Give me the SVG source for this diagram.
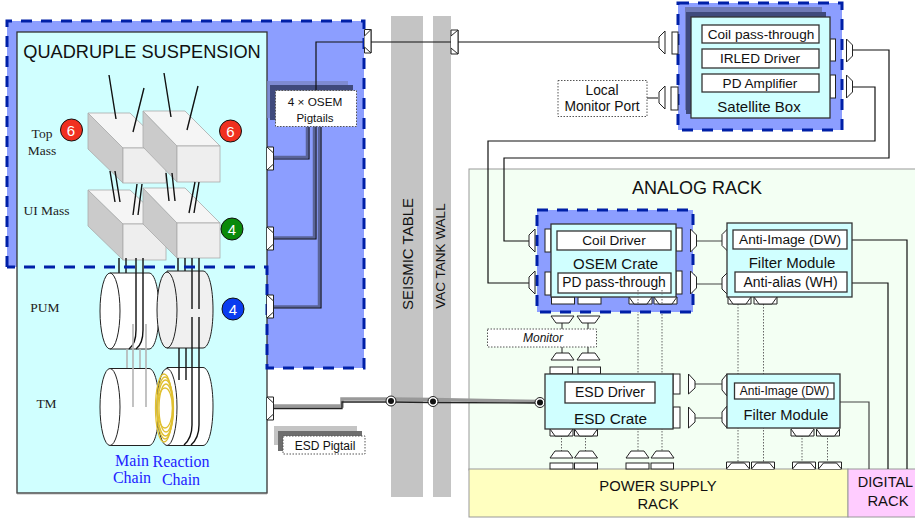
<svg xmlns="http://www.w3.org/2000/svg" xmlns:xlink="http://www.w3.org/1999/xlink" width="915" height="518" viewBox="0 0 915 518">
<style>
text{font-family:"Liberation Sans",Arial,sans-serif;fill:#111;text-anchor:middle}
.ser{font-family:"Liberation Serif","Times New Roman",serif;fill:#222}
.chain{font-family:"Liberation Serif","Times New Roman",serif;fill:#2222ff;font-size:16px}
.cy{fill:#d0ffff;stroke:#333;stroke-width:1.3}
.in{fill:#fff;stroke:#333;stroke-width:1.3}
.dash{fill:none;stroke:#0020a8;stroke-width:3;stroke-dasharray:11 9}
.zone{fill:#8c9eff}
.w{fill:none;stroke:#111;stroke-width:1.2}
.wg{fill:none;stroke:#444;stroke-width:1.2}
.dot{fill:none;stroke:#666;stroke-width:1;stroke-dasharray:1.5 1.5}
.p{fill:#fff;stroke:#222;stroke-width:1}
.bt{fill:#f5f5f5;stroke:#aaa;stroke-width:.8}
.bs{fill:#cbcbcb;stroke:#aaa;stroke-width:.8}
.bf{fill:#eeeeee;stroke:#aaa;stroke-width:.8}
.sus{fill:none;stroke:#111;stroke-width:1.4}
.gs{fill:none;stroke:#b4b4b4;stroke-width:1.6}
.cyl{fill:#fff;stroke:#222;stroke-width:1}
.lab{fill:#fff;stroke:#555;stroke-width:1;stroke-dasharray:1.5 1.5}
.yr{fill:none;stroke:#e0c030;stroke-width:1.3}
.num{fill:#fff;font-size:15px}
</style>
<defs>
<g id="hl"><path class="p" d="M0 0H6.500V23H0Z"/><path class="p" d="M0 0L6.500 6V17L0 23"/></g>
<g id="tl"><path class="p" d="M0 6L6 0V23L0 17Z"/></g>
<g id="tr"><path class="p" d="M0 0L6 6V17L0 23Z"/></g>
<g id="vb"><path class="p" d="M0 0H23V7H0Z"/><path class="p" d="M0 0L5 7H18L23 0" fill="none"/></g>
<g id="td"><path class="p" d="M0 0H23L18 7H5Z"/></g>
<g id="tu"><path class="p" d="M5 0H18L23 7H0Z"/></g>
<g id="vt"><path class="p" d="M0 0H23V7H0Z"/><path class="p" d="M0 7L5 1H18L23 7" fill="none"/></g>
</defs>

<g id="bands">
<rect x="391" y="16" width="32" height="481" fill="#c4c4c4"/>
<rect x="433" y="16" width="18" height="481" fill="#c4c4c4"/>
<text transform="translate(413,254) rotate(-90)" font-size="15">SEISMIC TABLE</text>
<text transform="translate(445,256) rotate(-90)" font-size="13.500">VAC TANK WALL</text>
</g>

<g id="racks">
<rect x="469" y="169" width="447" height="301" fill="#f3fff3" stroke="#999" stroke-width="1"/>
<text x="697" y="194" font-size="18">ANALOG RACK</text>
<rect x="469" y="469" width="379" height="48" fill="#ffffc0" stroke="#999" stroke-width="1"/>
<text x="658" y="491" font-size="14.800">POWER SUPPLY</text>
<text x="658" y="509" font-size="14.800">RACK</text>
<rect x="848" y="469" width="68" height="48" fill="#ffccff" stroke="#999" stroke-width="1"/>
<text x="885.500" y="487" font-size="14.500">DIGITAL</text>
<text x="888" y="506" font-size="14.800">RACK</text>
</g>

<g id="suspension-zone">
<path class="zone" d="M7 21H364V368H267V267H7Z"/>
</g>

<g id="suspension">
<rect x="17" y="32" width="250" height="461" class="cy" stroke-width="1"/>
<path d="M17 493.500H267" stroke="#777" stroke-width="1.500"/>
<text x="142" y="58" font-size="18.200">QUADRUPLE SUSPENSION</text>
<text class="ser" x="42" y="138" font-size="13.500">Top</text>
<text class="ser" x="42" y="155" font-size="13.500">Mass</text>
<text class="ser" x="46.500" y="215" font-size="13.500">UI Mass</text>
<text class="ser" x="45" y="312" font-size="13.500">PUM</text>
<text class="ser" x="46.500" y="408" font-size="13.500">TM</text>

<g id="top-mass-1"><path class="bs" d="M88 113L123 148V183L88 149Z"/><path class="bt" d="M88 113H130L166 148H123Z"/><rect class="bf" x="123" y="148" width="43" height="35"/></g>
<g id="top-mass-2"><path class="bs" d="M143 111L177 146V182L143 147Z"/><path class="bt" d="M143 111H185L220 146H177Z"/><rect class="bf" x="177" y="146" width="43" height="36"/></g>
<path class="sus" d="M109 75L116 119M144 88L133 132M164 73L171 117M198 86L187 130"/>
<g id="ui-mass-1"><path class="bs" d="M88 190L123 224V260L88 226Z"/><path class="bt" d="M88 190H130L166 224H123Z"/><rect class="bf" x="123" y="224" width="43" height="36"/></g>
<g id="ui-mass-2"><path class="bs" d="M143 188L177 223V258L143 224Z"/><path class="bt" d="M143 188H185L220 223H177Z"/><rect class="bf" x="177" y="223" width="43" height="35"/></g>
<path class="sus" d="M110 171L115 202M115 171L120 202M137 184L133 215M142 184L138 215M166 173L169 201M172 173L175 201M195 182L189 213M199 182L194 213"/>
<path class="sus" d="M119 258V273M126 258V273M136 258V273M143 258V273M178 258V272M185 258V272M192 258V272M199 258V272"/>

<g id="pum-main"><path class="cyl" d="M110 273H149C155 273 159 290 159 311C159 332 155 349 149 349H110Z"/><ellipse class="cyl" cx="110" cy="311" rx="10" ry="38"/></g>
<path class="sus" d="M136 273V330Q136 344 129 349M143 273V330Q143 344 136 349" stroke-width="1.100"/>
<g id="pum-reaction"><path d="M167 271H203C209 271 213 288 213 310C213 331 209 348 203 348H167Z" fill="#f0f0f0" stroke="#222"/><ellipse cx="167" cy="310" rx="10" ry="38" fill="#f0f0f0" stroke="#222"/></g>
<path class="sus" d="M192 271V309M199 271V309M192 317V348M199 317V348"/>

<g id="tm-main"><path class="cyl" d="M110 368.500H149C155 368.500 159 386 159 407C159 428 155 445.500 149 445.500H110Z"/><ellipse class="cyl" cx="110" cy="407" rx="10" ry="38.500"/></g>
<path class="gs" d="M127 349V368M140 349V368M133 324V407M146 324V407"/>
<g id="tm-reaction"><path class="cyl" d="M167 367.500H203C209 367.500 213 385 213 406C213 428 209 445.500 203 445.500H167Z"/><ellipse class="cyl" cx="167" cy="407" rx="10" ry="38.500"/>
<ellipse class="yr" cx="164" cy="408" rx="8.500" ry="34"/><ellipse class="yr" cx="165" cy="408" rx="8" ry="31"/><ellipse class="yr" cx="165.500" cy="408" rx="8" ry="28"/><ellipse class="yr" cx="166" cy="408" rx="7" ry="24"/><ellipse class="yr" cx="165" cy="408" rx="7.500" ry="20"/></g>
<path class="sus" d="M179 348V380M186 348V380"/>
<path class="sus" d="M192 348V425Q192 438 184 445M199 348V425Q199 438 191 445" stroke-width="1.100"/>
<circle cx="71.500" cy="130" r="11" fill="#f03020" stroke="#111"/><text class="num" x="71" y="135.500">6</text>
<circle cx="230.500" cy="131" r="11" fill="#f03020" stroke="#111"/><text class="num" x="230.500" y="136.500">6</text>
<circle cx="232" cy="229" r="11" fill="#0a8a0a" stroke="#111"/><text class="num" x="232" y="234.500">4</text>
<circle cx="233" cy="309" r="11" fill="#0a3cf0" stroke="#111"/><text class="num" x="233" y="314.500">4</text>
<text class="chain" x="132" y="466">Main</text><text class="chain" x="132" y="483">Chain</text>
<text class="chain" x="181" y="467">Reaction</text><text class="chain" x="181" y="485">Chain</text>
</g>

<g id="osem-pigtails">
<path d="M267 81H348V118H267Z" fill="#7a86c8" opacity=".8"/>
<path d="M270 85H353V123H275V120H270Z" fill="#3f4a7c"/>
<path d="M273 157H307V127" fill="none" stroke="#5a6498" stroke-width="2.500"/>
<path d="M273 237.500H314V127" fill="none" stroke="#5a6498" stroke-width="2.500"/>
<path d="M273 306.500H319V127" fill="none" stroke="#5a6498" stroke-width="2.500"/>
</g>

<g id="connectors">
<path class="w" d="M273 159H309V127M273 239H316V42H364M273 308H321V127"/>
<path class="w" d="M371 42H451M458 42H659M647 98H658"/>
<path class="w" d="M852 50H889V158H504V241H529M852 87H875V141H488V283H529"/>
<path class="wg" d="M696 241H722M696 284H722M695 384H722M695 418H722"/>
<path class="w" d="M847 240H907V469M847 283H888V469"/>
<path class="wg" d="M840 402H869V469"/>
<path class="wg" d="M562 323V329M588 323V329M562 347V353M588 347V353"/>
<path class="dot" d="M638 293V451M662 293V451M738 304V463M763.500 304V463M802 435V463M827.500 435V463M561.500 435V452M585.500 435V452"/>
<path d="M273 407.500H342V400.500H391L433 401L540 403" fill="none" stroke="#999" stroke-width="3.500" transform="translate(0,-1.500)"/>
<path d="M273 408.500H342V402H391L433 402.500L540 403" fill="none" stroke="#222" stroke-width="1.300"/>
<g fill="#fff" stroke="#222"><circle cx="391" cy="401" r="5"/><circle cx="433" cy="401.500" r="5"/><circle cx="540" cy="402.500" r="5"/></g>
<g fill="#111"><circle cx="391" cy="401" r="3"/><circle cx="433" cy="401.500" r="3"/><circle cx="540" cy="402.500" r="3"/></g>
</g>

<g id="osem-label">
<rect class="lab" x="275.500" y="90.500" width="81" height="36"/>
<text x="315" y="106" font-size="11.800">4 × OSEM</text>
<text x="315" y="121.500" font-size="11.500">Pigtails</text>
</g>

<g id="suspension-dash">
<path class="dash" d="M7 267V21H364V368H267V267H7"/>
<use xlink:href="#hl" x="267" y="147"/><use xlink:href="#hl" x="267" y="227"/><use xlink:href="#hl" x="267" y="295"/><use xlink:href="#hl" x="267" y="397"/>
<path class="p" d="M364.500 29.500H371V53H364.500Z"/><path class="p" d="M364.500 36L371 29.500V53L364.500 47"/>
<path class="p" d="M451 30H458V54H451Z"/><path class="p" d="M451 36L458 30V54L451 48"/>
</g>

<g id="esd-label">
<rect x="274" y="426" width="83" height="19" fill="#c4c4c4"/>
<rect x="278" y="431" width="84" height="20" fill="#6e6e6e"/>
<rect class="lab" x="283" y="436" width="82" height="18"/>
<text x="325" y="449.500" font-size="12">ESD Pigtail</text>
</g>

<g id="satellite-box">
<rect x="678" y="3" width="164" height="127" class="zone"/>
<rect x="685" y="7" width="137" height="103" fill="#666d9e" opacity=".75"/>
<rect x="686" y="12" width="140" height="102" fill="#3f4a7c"/>
<rect class="dash" x="678" y="3" width="164" height="127"/>
<rect class="p" x="672" y="32" width="6" height="22"/><rect class="p" x="671" y="87" width="7" height="23"/>
<rect class="p" x="830" y="39" width="5.500" height="22"/><rect class="p" x="830" y="75" width="5.500" height="23"/>
<use xlink:href="#tl" x="659" y="31"/><use xlink:href="#tl" x="659" y="86"/>
<use xlink:href="#tr" x="846.500" y="39"/><use xlink:href="#tr" x="846.500" y="75"/>
<rect class="cy" x="691" y="17" width="139" height="101"/>
<rect class="in" x="702" y="25" width="117" height="18"/><text x="761" y="38.500" font-size="13.600">Coil pass-through</text>
<rect class="in" x="702" y="49" width="117" height="19"/><text x="760" y="63" font-size="13.600">IRLED Driver</text>
<rect class="in" x="702" y="74" width="117" height="18"/><text x="760" y="87.500" font-size="13.600">PD Amplifier</text>
<text x="759" y="112" font-size="15">Satellite Box</text>
</g>

<g id="local-monitor">
<rect class="lab" x="558" y="80.500" width="89" height="36"/>
<text x="602" y="94.500" font-size="13.800">Local</text><text x="602" y="111" font-size="13.800">Monitor Port</text>
</g>

<g id="osem-crate">
<rect class="zone" x="537" y="210" width="156" height="102"/>
<rect class="dash" x="537" y="210" width="156" height="102"/>
<use xlink:href="#tl" x="529" y="229"/><use xlink:href="#tl" x="529" y="271"/>
<rect class="p" x="545" y="229" width="6" height="23"/><rect class="p" x="545" y="272" width="6" height="23"/>
<rect class="p" x="676" y="228" width="6" height="23"/><rect class="p" x="676" y="271" width="6" height="23"/>
<use xlink:href="#tr" x="690.500" y="229"/><use xlink:href="#tr" x="690.500" y="271"/>
<rect class="p" x="551.500" y="297" width="23" height="7"/><rect class="p" x="578" y="297" width="23" height="7"/>
<use xlink:href="#vb" x="629" y="297"/><use xlink:href="#vb" x="654" y="297"/>
<rect class="cy" x="551" y="224" width="125" height="73"/>
<rect class="in" x="557" y="231" width="114" height="19"/><text x="614" y="245" font-size="13.600">Coil Driver</text>
<text x="615.500" y="268.500" font-size="15">OSEM Crate</text>
<rect class="in" x="558" y="273" width="113" height="20"/><text x="614" y="287" font-size="13.800">PD pass-through</text>
<path class="dot" d="M638 290V304M662 290V304"/>
</g>

<g id="monitor">
<use xlink:href="#td" x="551" y="316"/><use xlink:href="#td" x="577" y="316"/>
<rect class="lab" x="487.500" y="329" width="109" height="18"/>
<text x="543" y="342" font-size="12" font-style="italic">Monitor</text>
<use xlink:href="#tu" x="551" y="353"/><use xlink:href="#tu" x="577" y="353"/>
</g>

<g id="filter-upper">
<use xlink:href="#tl" x="722" y="228.500"/><use xlink:href="#tl" x="722" y="272"/>
<use xlink:href="#vb" x="728" y="297"/><use xlink:href="#vb" x="754" y="297"/>
<rect class="cy" x="727" y="223" width="125" height="74"/>
<rect class="in" x="733" y="230" width="114" height="19"/><text x="790" y="244" font-size="13.700">Anti-Image (DW)</text>
<text x="792" y="268" font-size="15">Filter Module</text>
<rect class="in" x="735" y="272" width="112" height="20"/><text x="790.500" y="287" font-size="14">Anti-alias (WH)</text>
</g>

<g id="esd-crate">
<rect class="p" x="550" y="367" width="22.500" height="7"/><rect class="p" x="578" y="367" width="22.500" height="7"/>
<rect class="p" x="673" y="374" width="7" height="20"/><rect class="p" x="673" y="407" width="7" height="21"/>
<path class="p" d="M688.500 374L695 381V388L688.500 394Z"/><path class="p" d="M688.500 407L695 414V422L688.500 428Z"/>
<use xlink:href="#vb" x="550" y="429"/><use xlink:href="#vb" x="574.500" y="429"/>
<rect class="cy" x="545" y="374" width="128" height="55"/>
<rect class="in" x="565" y="382" width="90" height="21"/><text x="610" y="397" font-size="14">ESD Driver</text>
<text x="610.500" y="423.500" font-size="15.300">ESD Crate</text>
</g>

<g id="filter-lower">
<path class="p" d="M722 380L727 374V396L722 390Z"/><path class="p" d="M722 412L727 406V428L722 422Z"/>
<use xlink:href="#vb" x="791" y="429"/><use xlink:href="#vb" x="816.500" y="429"/>
<rect class="cy" x="727" y="374" width="113" height="54"/>
<rect class="in" x="734.500" y="383" width="99.500" height="16"/><text x="784.500" y="395" font-size="12">Anti-Image (DW)</text>
<text x="786" y="420" font-size="14.700">Filter Module</text>
</g>

<g id="rack-ports">
<use xlink:href="#tu" x="550" y="451"/><use xlink:href="#tu" x="574.500" y="451"/><use xlink:href="#tu" x="626" y="451"/><use xlink:href="#tu" x="651" y="451"/>
<rect class="p" x="550" y="463" width="23" height="6"/><rect class="p" x="574.500" y="463" width="23" height="6"/><rect class="p" x="626" y="463" width="23" height="6"/><rect class="p" x="651" y="463" width="22.500" height="6"/>
<use xlink:href="#vt" x="726.500" y="463" transform="translate(0,-1)"/><use xlink:href="#vt" x="751.500" y="463" transform="translate(0,-1)"/><use xlink:href="#vt" x="792.500" y="463" transform="translate(0,-1)"/><use xlink:href="#vt" x="818.500" y="463" transform="translate(0,-1)"/>
</g>
</svg>
